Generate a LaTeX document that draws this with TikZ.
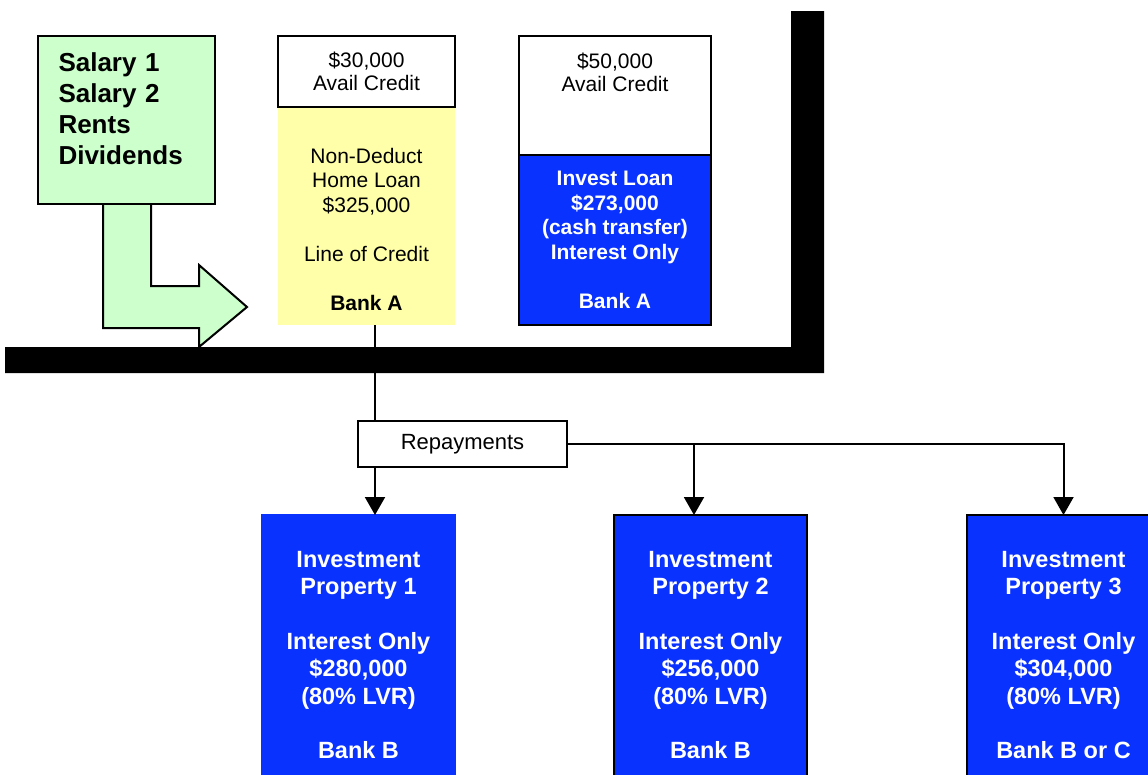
\documentclass[tikz,border=0pt]{standalone}
\usepackage{fontspec}
\setmainfont{Liberation Sans}
\usetikzlibrary{arrows.meta,positioning}
\definecolor{planInk}{HTML}{000000}
\definecolor{planBlue}{HTML}{0A32FF}
\definecolor{planGreen}{HTML}{CCFFCC}
\definecolor{planYellow}{HTML}{FFFFAA}
\tikzset{
  every picture/.style={text=planInk},
  plan box/.style={draw=planInk, line width=2pt, fill=white, align=center,
    inner sep=0pt, outer sep=0pt, anchor=north west},
  plan blue/.style={plan box, fill=planBlue, text=white,
    font=\bfseries\fontsize{21}{24.5}\selectfont},
  prop box/.style={plan blue, minimum width=193pt, minimum height=280pt,
    font=\bfseries\fontsize{23.5}{27.4}\selectfont},
  plan link/.style={draw=planInk, line width=2pt},
  plan arrow/.style={plan link, -{Triangle[length=18pt,width=20pt]}},
  plan bar/.style={fill=planInk}
}
\begin{document}
\begin{tikzpicture}[x=1pt,y=-1pt]
  \useasboundingbox (0,0) rectangle (1148,774);
  % income flowing in
  \filldraw[fill=planGreen, draw=planInk, line width=2pt, line join=miter]
    (103,204) -- (103,328) -- (199,328) -- (199,347) -- (247,307)
    -- (199,265) -- (199,286) -- (151,286) -- (151,204);
  \node[plan box, fill=planGreen, minimum width=177pt, minimum height=168pt,
    text width=136pt, align=left, font=\bfseries\fontsize{26}{31}\selectfont]
    (income) at (38,36) {Salary 1\\Salary 2\\Rents\\Dividends\\[-8pt]\mbox{}};
  % the wall
  \fill[plan bar] (5,347) -- (791,347) -- (791,11) -- (824,11) -- (824,373)
    -- (5,373) -- cycle;
  % home loan, bank A
  \node[plan box, draw=none, fill=planYellow, minimum width=177pt,
    minimum height=218pt, font=\fontsize{21}{24.5}\selectfont] (homeloan) at (278,107)
    {\mbox{}\\[17.5pt]Non-Deduct\\Home Loan\\\$325,000\\[24.5pt]Line of Credit\\[24.5pt]\textbf{Bank A}};
  \node[plan box, minimum width=177pt, minimum height=71pt,
    font=\fontsize{21}{23}\selectfont] (homecredit) at (278,36) {\$30,000\\Avail Credit};
  % invest loan, bank A
  \node[plan box, minimum width=192pt, minimum height=119pt,
    font=\fontsize{21}{23}\selectfont] (investcredit) at (519,36)
    {\$50,000\\Avail Credit\\\mbox{}\\\mbox{}};
  \node[plan blue, minimum width=192pt, minimum height=170pt] (investloan) at (519,155)
    {Invest Loan\\\$273,000\\(cash transfer)\\Interest Only\\[24.5pt]Bank A};
  % repayments
  \node[plan box, minimum width=209pt, minimum height=46pt,
    font=\fontsize{22}{26}\selectfont] (repay) at (358,421) {Repayments};
  % properties
  \node[prop box, draw=planBlue] (prop1) at (262,515)
    {Investment\\Property 1\\[27.4pt]Interest Only\\\$280,000\\(80\% LVR)\\[27.4pt]Bank B};
  \node[prop box] (prop2) at (614,515)
    {Investment\\Property 2\\[27.4pt]Interest Only\\\$256,000\\(80\% LVR)\\[27.4pt]Bank B};
  \node[prop box] (prop3) at (967,515)
    {Investment\\Property 3\\[27.4pt]Interest Only\\\$304,000\\(80\% LVR)\\[27.4pt]Bank B or C};
  % connectors
  \coordinate (tap) at (375,0);
  \coordinate (split) at (694,0);
  \draw[plan link] (homeloan.south -| tap) -- (repay.north -| tap);
  \draw[plan arrow] (repay.south -| tap) -- (prop1.north -| tap);
  \draw[plan arrow] (repay.east -| split) -- (prop2.north -| split);
  \draw[plan arrow] (repay.east) -| (prop3.north);
\end{tikzpicture}
\end{document}
